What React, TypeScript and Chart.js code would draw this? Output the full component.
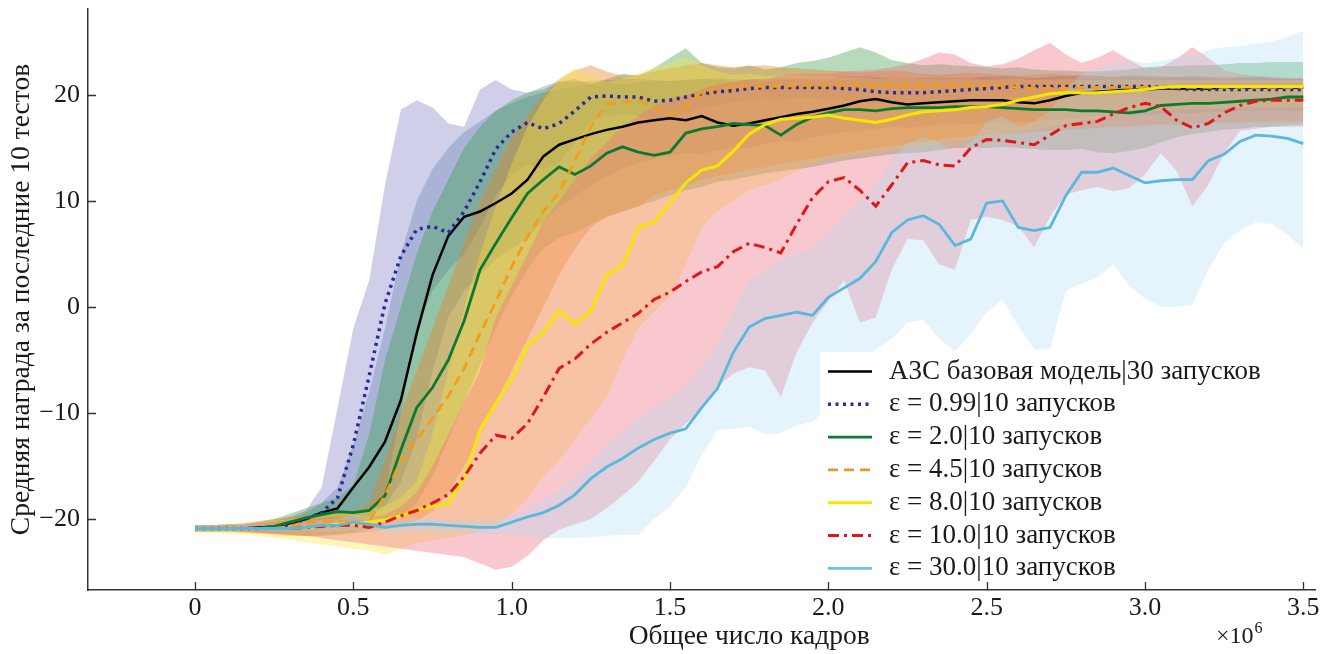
import React, { useEffect, useRef } from 'react';
import { Chart, registerables } from 'chart.js';
Chart.register(...registerables);

// x positions, millions of frames
const FRAMES_M = [
  0, 0.05, 0.1, 0.15, 0.2, 0.25, 0.3, 0.35, 0.4, 0.45,
  0.5, 0.55, 0.6, 0.65, 0.7, 0.75, 0.8, 0.85, 0.9, 0.95,
  1.0, 1.05, 1.1, 1.15, 1.2, 1.25, 1.3, 1.35, 1.4, 1.45,
  1.5, 1.55, 1.6, 1.65, 1.7, 1.75, 1.8, 1.85, 1.9, 1.95,
  2.0, 2.05, 2.1, 2.15, 2.2, 2.25, 2.3, 2.35, 2.4, 2.45,
  2.5, 2.55, 2.6, 2.65, 2.7, 2.75, 2.8, 2.85, 2.9, 2.95,
  3.0, 3.05, 3.1, 3.15, 3.2, 3.25, 3.3, 3.35, 3.4, 3.45,
  3.5,
];

const A3C_MEAN = [
  -20.9, -20.9, -20.9, -20.9, -20.8, -20.7, -20.4, -20.0, -19.4, -19.0,
  -17.0, -15.1, -12.7, -8.8, -2.5, 3.0, 6.7, 8.5, 9.0, 9.8,
  10.7, 12.0, 14.2, 15.3, 15.8, 16.3, 16.7, 17.0, 17.4, 17.6,
  17.8, 17.6, 18.0, 17.4, 17.1, 17.3, 17.6, 17.9, 18.2, 18.4,
  18.7, 19.0, 19.4, 19.6, 19.3, 19.1, 19.2, 19.3, 19.4, 19.5,
  19.5, 19.5, 19.3, 19.2, 19.5, 19.9, 20.2, 20.3, 20.4, 20.5,
  20.5, 20.6, 20.6, 20.6, 20.6, 20.7, 20.7, 20.7, 20.7, 20.7,
  20.7,
];
const A3C_LO = [
  -21.0, -21.0, -21.0, -21.1, -21.1, -21.1, -21.0, -20.8, -20.6, -20.4,
  -20.2, -19.8, -18.8, -16.5, -12.5, -6.0, -1.0, 1.5, 3.0, 4.5,
  5.5, 6.5, 8.0, 9.5, 10.5, 11.5, 12.3, 13.0, 13.5, 14.0,
  14.2, 14.5, 14.4, 14.8, 15.1, 15.0, 15.4, 15.7, 15.6, 16.0,
  16.2, 16.5, 16.6, 16.8, 17.0, 16.9, 17.0, 17.2, 17.2, 17.3,
  17.3, 17.5, 17.4, 17.5, 17.7, 17.7, 17.8, 18.0, 18.0, 18.1,
  18.1, 18.2, 18.3, 18.3, 18.4, 18.4, 18.5, 18.5, 18.6, 18.5,
  18.5,
];
const A3C_HI = [
  -20.8, -20.8, -20.8, -20.7, -20.6, -20.4, -20.0, -19.4, -18.5, -17.0,
  -13.0, -8.0, -2.0, 5.0, 10.0, 13.0, 15.0, 16.5, 17.5, 18.5,
  19.2, 19.8, 20.2, 20.5, 20.8, 21.0, 21.2, 21.0, 21.2, 21.3,
  21.3, 21.4, 21.5, 21.4, 21.3, 21.4, 21.5, 21.6, 21.5, 21.5,
  21.6, 21.7, 21.8, 21.7, 21.6, 21.5, 21.6, 21.7, 21.6, 21.6,
  21.7, 21.8, 21.7, 21.6, 21.7, 21.8, 21.9, 21.8, 21.7, 21.8,
  21.8, 21.7, 21.7, 21.8, 21.7, 21.6, 21.7, 21.7, 21.6, 21.6,
  21.6,
];

const E099_MEAN = [
  -20.9, -20.9, -20.9, -20.9, -20.9, -20.8, -20.5, -20.0, -19.4, -18.0,
  -13.0, -6.5, 0.3, 4.8, 7.3, 7.6, 7.0, 9.0, 11.8, 14.9,
  16.5, 17.4, 16.8, 17.3, 18.5, 19.8, 19.9, 19.8, 19.8, 19.4,
  19.5, 19.8, 20.1, 20.3, 20.4, 20.6, 20.7, 20.7, 20.7, 20.7,
  20.7, 20.6, 20.5, 20.3, 20.2, 20.2, 20.2, 20.3, 20.4, 20.5,
  20.6, 20.7, 20.8, 20.8, 20.8, 20.8, 20.8, 20.8, 20.8, 20.8,
  20.8, 20.7, 20.6, 20.5, 20.5, 20.5, 20.5, 20.5, 20.5, 20.5,
  20.5,
];
const E099_LO = [
  -21.1, -21.1, -21.1, -21.1, -21.2, -21.3, -21.3, -21.2, -21.0, -20.8,
  -20.5, -19.8, -17.5, -10.0, -2.0, 1.5, 3.5, 5.0, 7.5, 10.5,
  12.5, 13.5, 13.0, 13.5, 15.5, 17.5, 18.0, 18.2, 18.0, 17.5,
  17.8, 18.2, 18.8, 19.0, 19.3, 19.5, 19.6, 19.6, 19.7, 19.7,
  19.6, 19.5, 19.4, 19.2, 19.1, 19.1, 19.2, 19.3, 19.4, 19.5,
  19.6, 19.7, 19.8, 19.8, 19.8, 19.9, 19.9, 19.9, 19.9, 19.8,
  19.7, 19.6, 19.5, 19.4, 19.4, 19.4, 19.4, 19.4, 19.4, 19.4,
  19.4,
];
const E099_HI = [
  -20.7, -20.7, -20.6, -20.6, -20.4, -20.2, -19.8, -19.2, -17.0, -9.5,
  -2.0, 2.5, 11.5, 18.6, 19.5, 18.8, 17.3, 17.0, 20.5, 21.4,
  20.5, 20.2, 20.8, 21.3, 21.2, 21.3, 21.4, 21.5, 21.5, 21.4,
  21.3, 21.4, 21.5, 21.6, 21.5, 21.4, 21.3, 21.4, 21.5, 21.4,
  21.3, 21.4, 21.5, 21.6, 21.5, 21.6, 21.5, 21.4, 21.5, 21.6,
  21.7, 21.6, 21.5, 21.6, 21.7, 21.8, 21.6, 21.5, 21.6, 21.7,
  21.6, 21.5, 21.6, 21.7, 21.6, 21.5, 21.6, 21.7, 21.6, 21.5,
  21.5,
];

const E2_MEAN = [
  -20.9, -20.9, -20.9, -20.9, -20.9, -20.7, -20.3, -19.9, -19.6, -19.3,
  -19.4, -19.2, -17.8, -13.5, -9.5, -7.6, -5.0, -1.3, 3.5, 6.0,
  8.4, 10.7, 12.0, 13.2, 12.5, 13.3, 14.5, 15.1, 14.6, 14.3,
  14.6, 16.4, 16.8, 17.0, 17.3, 17.2, 17.1, 16.2, 17.2, 17.9,
  18.3, 18.6, 18.6, 18.5, 18.7, 18.8, 18.8, 18.8, 18.9, 18.9,
  18.9, 18.8, 18.7, 18.6, 18.6, 18.6, 18.5, 18.5, 18.4, 18.3,
  18.5, 19.0, 19.1, 19.2, 19.2, 19.3, 19.4, 19.5, 19.6, 19.8,
  19.8,
];
const E2_LO = [
  -21.2, -21.2, -21.2, -21.2, -21.3, -21.4, -21.5, -21.6, -21.6, -21.5,
  -21.3, -21.0, -20.6, -19.8, -18.5, -16.0, -12.5, -9.0, -5.5, -2.0,
  1.0, 3.5, 5.5, 6.5, 7.0, 7.8, 8.5, 9.0, 9.5, 10.0,
  10.5, 11.0, 11.3, 11.8, 12.0, 12.3, 12.6, 12.8, 13.0, 13.2,
  13.5, 13.8, 14.0, 14.2, 14.4, 14.5, 14.6, 14.8, 15.0, 15.0,
  15.0, 15.1, 15.0, 14.9, 14.8, 14.8, 14.9, 14.6, 14.5, 14.7,
  15.0, 15.5, 16.0, 16.3, 16.5, 16.7, 16.8, 17.0, 17.0, 17.1,
  17.2,
];
const E2_HI = [
  -20.6, -20.6, -20.5, -20.5, -20.3, -20.0, -19.5, -19.0, -18.5, -18.0,
  -16.8, -12.0, -5.0, 0.0, 5.0, 9.0, 12.0, 15.0, 17.0, 18.5,
  19.5, 20.2, 20.5, 21.2, 21.5, 21.0, 21.5, 22.0, 21.8, 22.5,
  23.5, 24.4, 23.0, 22.6, 22.5, 22.8, 22.4, 22.6, 23.0, 23.2,
  23.5, 24.0, 24.5, 24.0, 23.3, 23.0, 22.8, 22.9, 22.8, 22.7,
  22.6, 22.5, 22.6, 22.4, 22.3, 22.3, 22.2, 22.2, 22.3, 22.4,
  22.6, 22.7, 22.7, 22.8, 22.8, 22.9, 23.0, 23.0, 23.1, 23.1,
  23.1,
];

const E45_MEAN = [
  -20.9, -20.9, -20.9, -20.9, -20.9, -20.9, -20.7, -20.4, -20.2, -20.2,
  -20.3, -20.2, -17.8, -14.5, -12.5, -10.5, -8.4, -5.8, -2.5, 0.5,
  3.8, 6.6, 9.0, 10.8, 13.8, 17.0, 19.1, 19.3, 19.5, 18.8,
  18.2, 18.8, 20.3, 20.6, 20.8, 20.8, 20.8, 20.8, 20.9, 20.9,
  20.9, 20.9, 20.9, 20.9, 20.9, 20.9, 20.9, 20.9, 20.9, 20.9,
  20.9, 20.9, 20.7, 20.6, 20.6, 20.6, 20.7, 20.7, 20.7, 20.7,
  20.7, 20.7, 20.7, 20.7, 20.7, 20.7, 20.7, 20.7, 20.7, 20.7,
  20.7,
];
const E45_LO = [
  -21.2, -21.2, -21.2, -21.3, -21.4, -21.5, -21.6, -21.6, -21.5, -21.4,
  -21.3, -21.2, -21.0, -20.7, -20.2, -19.3, -17.5, -15.0, -12.0, -9.0,
  -6.0, -3.0, 0.0, 3.0, 5.5, 7.5, 8.5, 9.0, 9.5, 10.5,
  11.0, 11.5, 12.0, 12.3, 12.6, 13.0, 13.2, 13.5, 13.8, 14.0,
  14.2, 14.5, 14.8, 15.0, 15.2, 15.4, 15.6, 15.8, 16.0, 16.1,
  16.2, 16.3, 16.4, 16.5, 16.6, 16.7, 16.8, 16.9, 17.0, 17.0,
  17.1, 17.2, 17.2, 17.3, 17.3, 17.4, 17.4, 17.5, 17.5, 17.5,
  17.5,
];
const E45_HI = [
  -20.6, -20.6, -20.5, -20.4, -20.2, -20.0, -19.8, -19.6, -19.5, -19.5,
  -19.3, -18.5, -14.5, -10.0, -6.0, -2.0, 2.0, 6.0, 10.0, 13.0,
  16.0, 18.0, 20.0, 21.5, 22.3, 22.8, 22.2, 21.8, 21.9, 22.2,
  22.5, 22.8, 23.0, 22.8, 22.6, 22.7, 22.8, 22.6, 22.5, 22.4,
  22.3, 22.2, 22.1, 22.2, 22.3, 22.2, 22.0, 21.9, 22.0, 22.1,
  22.0, 21.9, 21.8, 21.9, 22.0, 21.9, 21.8, 21.8, 21.7, 21.8,
  21.8, 21.7, 21.7, 21.6, 21.6, 21.7, 21.6, 21.5, 21.5, 21.5,
  21.5,
];

const E8_MEAN = [
  -20.9, -20.9, -20.9, -20.9, -20.9, -20.9, -20.9, -20.8, -20.7, -20.5,
  -20.4, -20.3, -20.1, -19.7, -19.1, -18.8, -18.5, -16.2, -11.6, -9.1,
  -6.8, -3.6, -2.4, -0.4, -1.6, -0.4, 3.0, 3.9, 7.5, 8.0,
  9.8, 11.7, 12.9, 13.3, 14.7, 16.3, 17.2, 17.7, 17.8, 17.9,
  18.1, 17.8, 17.6, 17.4, 17.7, 18.1, 18.4, 18.5, 18.6, 18.8,
  18.9, 19.1, 19.5, 19.8, 20.1, 20.2, 20.2, 20.2, 20.3, 20.4,
  20.5, 20.7, 20.8, 20.8, 20.8, 20.8, 20.8, 20.8, 20.8, 20.8,
  20.8,
];
const E8_LO = [
  -21.3, -21.3, -21.4, -21.5, -21.6, -21.8, -22.0, -22.2, -22.4, -22.6,
  -22.8, -23.0, -23.4, -22.8, -22.3, -22.0, -21.8, -21.5, -21.2, -20.7,
  -19.5, -18.0, -16.0, -14.5, -12.5, -10.5, -8.5, -5.0, -2.0, -0.5,
  1.0, 4.0, 7.5, 9.0, 10.0, 11.0, 11.5, 12.0, 12.8, 13.5,
  14.0, 14.2, 14.4, 14.6, 14.8, 15.0, 15.2, 15.4, 15.6, 15.8,
  16.0, 16.2, 16.4, 16.7, 17.0, 17.3, 17.6, 17.8, 18.0, 18.2,
  18.4, 18.5, 18.6, 18.7, 18.7, 18.8, 18.8, 18.8, 18.8, 18.8,
  18.8,
];
const E8_HI = [
  -20.6, -20.6, -20.5, -20.5, -20.4, -20.2, -20.0, -19.8, -19.6, -19.5,
  -19.3, -19.1, -18.8, -18.0, -16.5, -12.0, -6.0, 0.0, 5.0, 9.5,
  13.5, 17.0, 19.5, 21.5, 22.5, 21.8, 21.2, 21.5, 22.0, 22.6,
  23.0, 23.6, 22.8, 22.2, 21.9, 22.0, 21.8, 21.8, 21.9, 21.7,
  21.7, 21.6, 21.6, 21.5, 21.6, 21.5, 21.5, 21.4, 21.5, 21.5,
  21.4, 21.5, 21.5, 21.4, 21.4, 21.5, 21.4, 21.4, 21.5, 21.4,
  21.4, 21.4, 21.4, 21.4, 21.4, 21.4, 21.4, 21.4, 21.4, 21.4,
  21.4,
];

const E10_MEAN = [
  -20.9, -20.9, -20.9, -20.9, -20.9, -20.9, -20.9, -20.8, -20.7, -20.6,
  -20.6, -20.8, -20.3, -19.7, -19.2, -18.5, -17.7, -16.0, -13.8, -12.1,
  -12.4, -11.0, -8.5, -5.8, -4.9, -3.5, -2.4, -1.5, -0.6, 0.7,
  1.4, 2.4, 3.3, 3.8, 5.2, 6.0, 5.6, 5.1, 7.8, 10.3,
  11.8, 12.2, 11.0, 9.5, 11.5, 13.6, 13.8, 13.4, 13.3, 15.0,
  15.8, 15.7, 15.5, 15.3, 16.2, 17.1, 17.3, 17.5, 18.2, 18.8,
  19.2, 18.9, 17.6, 16.9, 17.3, 18.3, 19.0, 19.4, 19.5, 19.5,
  19.5,
];
const E10_LO = [
  -21.1, -21.1, -21.1, -21.2, -21.3, -21.4, -21.5, -21.6, -21.8, -22.0,
  -22.2, -22.4, -22.6, -22.8, -23.0, -23.2, -23.4, -23.6, -24.2, -24.8,
  -24.5, -23.5, -22.0, -21.0, -20.5, -20.0, -19.0, -17.8, -16.5, -14.5,
  -12.5, -11.0, -9.7, -7.5, -6.3, -5.7, -6.0, -8.5, -4.3, -1.5,
  0.5, 2.5, -1.5, -1.0, 3.5, 6.4, 6.3, 4.0, 3.5, 8.2,
  8.5, 8.2, 7.6, 5.6, 8.5, 10.6, 11.0, 11.3, 10.9, 11.2,
  12.5, 14.5, 12.8, 9.5, 11.5, 14.5, 16.6, 16.8, 17.0, 17.0,
  17.0,
];
const E10_HI = [
  -20.6, -20.6, -20.6, -20.5, -20.4, -20.3, -20.1, -20.0, -19.9, -19.8,
  -19.8, -19.9, -19.6, -18.8, -17.5, -15.0, -12.0, -9.0, -6.0, -1.0,
  2.0, 5.0, 8.0, 10.0, 12.0, 14.0, 15.5, 17.0, 18.0, 19.0,
  19.5, 20.0, 20.5, 21.0, 21.2, 21.5, 21.5, 21.8, 22.0, 22.0,
  22.0, 22.2, 22.3, 22.4, 22.6, 22.9, 23.4, 24.0, 23.8, 23.0,
  22.7, 22.9, 23.4, 24.2, 24.9, 23.8, 23.0, 23.5, 24.2, 23.3,
  22.5, 22.6, 23.4, 24.5, 23.5, 22.3, 22.0, 21.8, 21.7, 21.6,
  21.6,
];

const E30_MEAN = [
  -20.9, -20.9, -20.9, -20.9, -20.9, -20.9, -20.9, -20.8, -20.6, -20.6,
  -20.3, -20.5, -20.8, -20.6, -20.5, -20.5, -20.6, -20.7, -20.8, -20.8,
  -20.3, -19.8, -19.4, -18.7, -17.7, -16.2, -15.1, -14.3, -13.3, -12.5,
  -11.9, -11.5, -9.5, -7.7, -4.3, -1.9, -1.1, -0.8, -0.5, -0.8,
  0.9, 1.8, 2.7, 4.3, 7.0, 8.2, 8.6, 7.8, 5.8, 6.4,
  9.8, 10.0, 7.5, 7.2, 7.5, 10.5, 12.7, 12.7, 13.1, 12.4,
  11.7, 11.9, 12.0, 12.0, 13.8, 14.4, 15.6, 16.2, 16.1, 15.9,
  15.4,
];
const E30_LO = [
  -21.1, -21.1, -21.1, -21.1, -21.1, -21.2, -21.2, -21.2, -21.2, -21.2,
  -21.1, -21.2, -21.3, -21.3, -21.2, -21.2, -21.3, -21.3, -21.4, -21.4,
  -21.4, -21.6, -21.8, -21.8, -21.8, -21.7, -21.6, -21.5, -21.5, -20.0,
  -18.8, -17.0, -14.0, -11.6, -11.5, -11.3, -12.0, -11.9, -11.2, -10.8,
  -9.5, -7.5, -5.5, -4.0, -3.0, -1.5, -1.2, -3.0, -4.2, -2.5,
  -0.5, 0.7, -1.8, -4.0, -4.0, 1.5, 2.2, 2.8, 4.0, 2.0,
  0.8, 0.0, 0.0, 0.2, 3.5, 6.0, 7.2, 8.0, 7.8, 6.8,
  5.5,
];
const E30_HI = [
  -20.7, -20.7, -20.7, -20.6, -20.6, -20.5, -20.4, -20.3, -20.1, -20.0,
  -19.6, -19.8, -20.0, -20.0, -19.9, -19.9, -20.0, -20.1, -20.1, -20.0,
  -19.7, -19.0, -18.2, -17.3, -16.0, -14.5, -13.0, -11.8, -10.5, -9.5,
  -8.5, -7.5, -5.5, -3.5, -0.5, 2.5, 3.5, 4.5, 5.0, 5.5,
  7.0, 8.5, 10.0, 11.5, 14.0, 15.5, 16.0, 15.5, 14.5, 15.5,
  17.5, 18.0, 17.0, 17.5, 18.5, 20.5, 22.0, 22.5, 23.0, 23.3,
  23.0, 23.2, 23.5, 23.8, 24.2, 24.5, 24.6, 24.8, 25.0, 25.5,
  26.0,
];

const X_TICKS = [0, 0.5, 1.0, 1.5, 2.0, 2.5, 3.0, 3.5];
const X_TICK_LABELS = ['0', '0.5', '1.0', '1.5', '2.0', '2.5', '3.0', '3.5'];
const Y_TICKS = [-20, -10, 0, 10, 20];
const Y_TICK_LABELS = ['\u221220', '\u221210', '0', '10', '20'];

const SERIES_LABELS = [
  'A3C базовая модель|30 запусков',
  'ε = 0.99|10 запусков',
  'ε = 2.0|10 запусков',
  'ε = 4.5|10 запусков',
  'ε = 8.0|10 запусков',
  'ε = 10.0|10 запусков',
  'ε = 30.0|10 запусков',
];
const X_TITLE = 'Общее число кадров';
const Y_TITLE = 'Средняя награда за последние 10 тестов';

const MEANS = [A3C_MEAN, E099_MEAN, E2_MEAN, E45_MEAN, E8_MEAN, E10_MEAN, E30_MEAN];
const LOS = [A3C_LO, E099_LO, E2_LO, E45_LO, E8_LO, E10_LO, E30_LO];
const HIS = [A3C_HI, E099_HI, E2_HI, E45_HI, E8_HI, E10_HI, E30_HI];

// styles
const LINE_COLORS = ['#000000', '#2b2b9b', '#0b7a30', '#f39c1e', '#f5e800', '#e0161b', '#5ab7de'];
const LEGEND_COLORS = ['#000000', '#2b2b9b', '#0b7a30', '#dc9c34', '#f5e800', '#e0161b', '#6cc0e0'];
const BAND_COLORS = [
  'rgba(40,100,140,0.26)',
  'rgba(100,95,185,0.3)',
  'rgba(60,160,75,0.38)',
  'rgba(235,130,30,0.4)',
  'rgba(250,230,60,0.35)',
  'rgba(240,110,125,0.38)',
  'rgba(170,220,245,0.30)',
];
const LINE_WIDTHS = [2.5, 3.5, 2.8, 2.8, 3, 3, 2.8];
const LINE_DASHES = [[], [3, 4.5], [], [10, 6], [], [11, 5, 3, 5], []];

const FONT = '"Liberation Serif", "Times New Roman", serif';

const pts = (ys: number[]) => FRAMES_M.map((x, i) => ({ x, y: ys[i] }));

const decorPlugin = {
  id: 'decor',
  afterDatasetsDraw(chart: any) {
    const ctx = chart.ctx as CanvasRenderingContext2D;
    const xs = chart.scales.x;
    const ys = chart.scales.y;
    const area = chart.chartArea;
    ctx.save();
    // legend box
    ctx.fillStyle = '#ffffff';
    ctx.fillRect(820, 352, 470, area.bottom - 353);
    const row0 = 371.5;
    const rowH = 32.8;
    for (let k = 0; k < SERIES_LABELS.length; k++) {
      const y = row0 + k * rowH;
      ctx.beginPath();
      ctx.setLineDash(LINE_DASHES[k]);
      ctx.lineWidth = LINE_WIDTHS[k];
      ctx.strokeStyle = LEGEND_COLORS[k];
      ctx.lineCap = 'butt';
      ctx.moveTo(828, y);
      ctx.lineTo(872, y);
      ctx.stroke();
      ctx.setLineDash([]);
      ctx.fillStyle = '#1a1a1a';
      ctx.font = `27px ${FONT}`;
      ctx.textBaseline = 'middle';
      ctx.textAlign = 'left';
      ctx.fillText(SERIES_LABELS[k], 889, y);
    }
    // inward ticks
    ctx.strokeStyle = '#333';
    ctx.lineWidth = 1.3;
    ctx.beginPath();
    X_TICKS.forEach((v) => {
      const px = Math.round(xs.getPixelForValue(v)) + 0.5;
      ctx.moveTo(px, area.bottom);
      ctx.lineTo(px, area.bottom - 8);
    });
    Y_TICKS.forEach((v) => {
      const py = Math.round(ys.getPixelForValue(v)) + 0.5;
      ctx.moveTo(area.left, py);
      ctx.lineTo(area.left + 8, py);
    });
    ctx.stroke();
    // x title centred on data span
    ctx.fillStyle = '#1a1a1a';
    ctx.font = `27.5px ${FONT}`;
    ctx.textAlign = 'center';
    ctx.textBaseline = 'middle';
    const cx = (xs.getPixelForValue(X_TICKS[0]) + xs.getPixelForValue(X_TICKS[X_TICKS.length - 1])) / 2;
    ctx.fillText(X_TITLE, cx, 637);
    // multiplier
    ctx.textAlign = 'left';
    ctx.font = `24px ${FONT}`;
    ctx.fillText('×10', 1216, 637);
    const w = ctx.measureText('×10').width;
    ctx.font = `16px ${FONT}`;
    ctx.fillText('6', 1216 + w + 1, 629);
    ctx.restore();
  },
};

export default function App() {
  const ref = useRef<HTMLCanvasElement | null>(null);
  useEffect(() => {
    if (!ref.current) return;
    const order = [6, 5, 4, 3, 2, 1, 0];
    const lineSets = order.map((i) => ({
      label: SERIES_LABELS[i],
      data: pts(MEANS[i]),
      borderColor: LINE_COLORS[i],
      backgroundColor: LINE_COLORS[i],
      borderWidth: LINE_WIDTHS[i],
      borderDash: LINE_DASHES[i],
      borderCapStyle: 'butt',
      pointRadius: 0,
      tension: 0,
      fill: false,
    }));
    const bandSets = order.flatMap((i) => [
      {
        label: SERIES_LABELS[i] + ' lo',
        data: pts(LOS[i]),
        borderColor: 'rgba(0,0,0,0)',
        borderWidth: 0,
        pointRadius: 0,
        tension: 0,
        fill: false,
      },
      {
        label: SERIES_LABELS[i] + ' hi',
        data: pts(HIS[i]),
        borderColor: 'rgba(0,0,0,0)',
        backgroundColor: BAND_COLORS[i],
        borderWidth: 0,
        pointRadius: 0,
        tension: 0,
        fill: '-1',
      },
    ]);
    const chart = new Chart(ref.current, {
      type: 'line',
      data: { datasets: [...lineSets, ...bandSets] as any },
      options: {
        animation: false,
        responsive: false,
        devicePixelRatio: 1,
        events: [],
        layout: { padding: { top: 9, right: 18, left: 0, bottom: 0 } },
        plugins: {
          legend: { display: false },
          tooltip: { enabled: false },
          filler: { propagate: false, drawTime: 'beforeDatasetsDraw' },
        },
        scales: {
          x: {
            type: 'linear',
            min: -0.338,
            max: 3.537,
            afterBuildTicks: (s: any) => {
              s.ticks = X_TICKS.map((v) => ({ value: v }));
            },
            afterFit: (s: any) => {
              s.height = 64;
              s.paddingLeft = 0;
              s.paddingRight = 0;
            },
            ticks: {
              autoSkip: false,
              maxRotation: 0,
              padding: 3,
              color: '#1a1a1a',
              font: { family: FONT, size: 26 },
              callback: (v: any) => {
                const k = X_TICKS.indexOf(Number(v));
                return k >= 0 ? X_TICK_LABELS[k] : '';
              },
            },
            grid: { display: false, drawTicks: false },
            border: { display: true, color: '#333', width: 1.5 },
          },
          y: {
            type: 'linear',
            min: -26.7,
            max: 28.1,
            afterBuildTicks: (s: any) => {
              s.ticks = Y_TICKS.map((v) => ({ value: v }));
            },
            afterFit: (s: any) => {
              s.width = 88;
              s.paddingTop = 0;
              s.paddingBottom = 0;
            },
            ticks: {
              padding: 8,
              color: '#1a1a1a',
              font: { family: FONT, size: 26 },
              callback: (v: any) => {
                const k = Y_TICKS.indexOf(Number(v));
                return k >= 0 ? Y_TICK_LABELS[k] : '';
              },
            },
            grid: { display: false, drawTicks: false },
            border: { display: true, color: '#333', width: 1.5 },
            title: {
              display: true,
              text: Y_TITLE,
              color: '#1a1a1a',
              font: { family: FONT, size: 27.5 },
              padding: { top: 5, bottom: 0 },
            },
          },
        },
      },
      plugins: [decorPlugin],
    } as any);
    return () => chart.destroy();
  }, []);
  return (
    <div style={{ position: 'fixed', left: 0, top: 0, width: 1333, height: 654, background: '#fff' }}>
      <canvas ref={ref} width={1333} height={654} style={{ display: 'block', width: 1333, height: 654 }} />
    </div>
  );
}
